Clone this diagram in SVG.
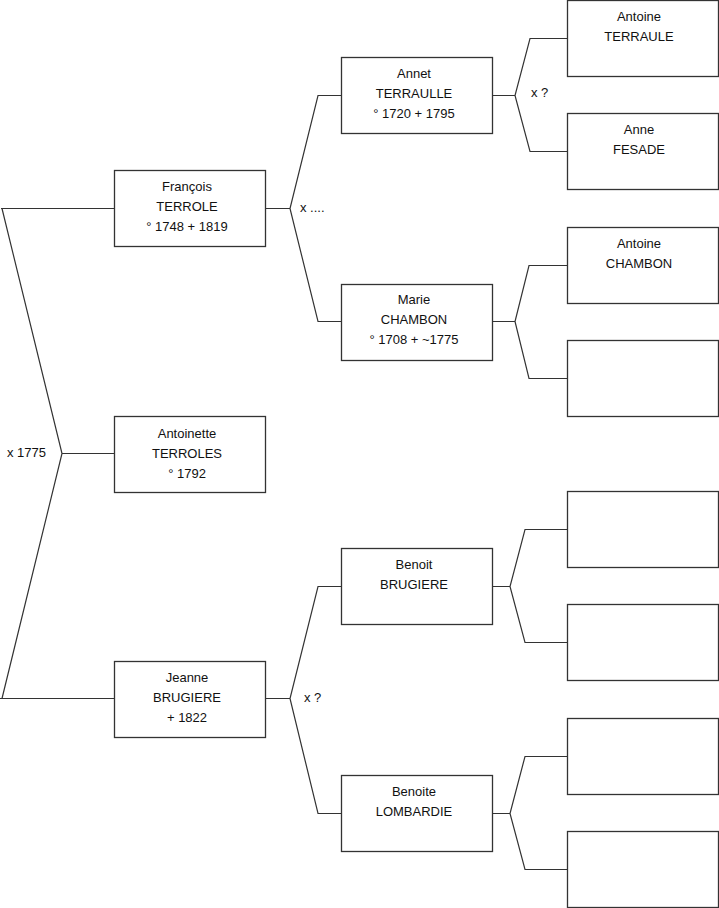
<svg xmlns="http://www.w3.org/2000/svg" width="719" height="908" viewBox="0 0 719 908">
<style>
.box{fill:#fff;stroke:#333;stroke-width:1.3}
.t{font-family:"Liberation Sans",Arial,sans-serif;font-size:13px;fill:#111;text-anchor:middle}
.l{font-family:"Liberation Sans",Arial,sans-serif;font-size:13px;fill:#111}
.c{fill:none;stroke:#333;stroke-width:1.2}
</style>
<rect width="719" height="908" fill="#fff"/>
<g id="connectors">
<path class="c" d="M114,208.5 H1 M2,208.5 L62,453.5 L2,698.5 M0,698.5 H114 M62,453.5 H114"/>
<path class="c" d="M265,208.5 H290 M341,95.5 H318 L290,208.5 L318,321.5 H341"/>
<path class="c" d="M265,698.5 H290 M341,586.5 H318 L290,698.5 L318,813.5 H341"/>
<path class="c" d="M492,95.5 H515 M567,38.5 H530 L515,95.5 L530,151.5 H567"/>
<path class="c" d="M492,321.5 H515 M567,265.5 H529 L515,321.5 L529,378.5 H567"/>
<path class="c" d="M492,586.5 H510 M567,529.5 H525 L510,586.5 L525,642.5 H567"/>
<path class="c" d="M492,813.5 H510 M567,756.5 H525 L510,813.5 L525,869.5 H567"/>
<text class="l" x="7" y="457">x 1775</text>
<text class="l" x="300" y="212">x ....</text>
<text class="l" x="304" y="702">x ?</text>
<text class="l" x="531" y="97">x ?</text>
</g>
<g id="francois"><rect class="box" x="114.5" y="170.5" width="151" height="76"/><text class="t" x="187" y="191">François</text><text class="t" x="187" y="211">TERROLE</text><text class="t" x="187" y="231">° 1748 + 1819</text></g>
<g id="antoinette"><rect class="box" x="114.5" y="416.5" width="151" height="76"/><text class="t" x="187" y="438">Antoinette</text><text class="t" x="187" y="458">TERROLES</text><text class="t" x="187" y="478">° 1792</text></g>
<g id="jeanne"><rect class="box" x="114.5" y="661.5" width="151" height="76"/><text class="t" x="187" y="682">Jeanne</text><text class="t" x="187" y="702">BRUGIERE</text><text class="t" x="187" y="722">+ 1822</text></g>
<g id="annet"><rect class="box" x="341.5" y="57.5" width="151" height="76"/><text class="t" x="414" y="78">Annet</text><text class="t" x="414" y="98">TERRAULLE</text><text class="t" x="414" y="118">° 1720 + 1795</text></g>
<g id="marie"><rect class="box" x="341.5" y="284.5" width="151" height="76"/><text class="t" x="414" y="304">Marie</text><text class="t" x="414" y="324">CHAMBON</text><text class="t" x="414" y="344">° 1708 + ~1775</text></g>
<g id="benoit"><rect class="box" x="341.5" y="548.5" width="151" height="76"/><text class="t" x="414" y="569">Benoit</text><text class="t" x="414" y="589">BRUGIERE</text></g>
<g id="benoite"><rect class="box" x="341.5" y="775.5" width="151" height="76"/><text class="t" x="414" y="796">Benoite</text><text class="t" x="414" y="816">LOMBARDIE</text></g>
<g id="antoine-terraule"><rect class="box" x="567.5" y="0.5" width="151" height="76"/><text class="t" x="639" y="21">Antoine</text><text class="t" x="639" y="41">TERRAULE</text></g>
<g id="anne-fesade"><rect class="box" x="567.5" y="113.5" width="151" height="76"/><text class="t" x="639" y="134">Anne</text><text class="t" x="639" y="154">FESADE</text></g>
<g id="antoine-chambon"><rect class="box" x="567.5" y="227.5" width="151" height="76"/><text class="t" x="639" y="248">Antoine</text><text class="t" x="639" y="268">CHAMBON</text></g>
<g id="blank1"><rect class="box" x="567.5" y="340.5" width="151" height="76"/></g>
<g id="blank2"><rect class="box" x="567.5" y="491.5" width="151" height="76"/></g>
<g id="blank3"><rect class="box" x="567.5" y="604.5" width="151" height="76"/></g>
<g id="blank4"><rect class="box" x="567.5" y="718.5" width="151" height="76"/></g>
<g id="blank5"><rect class="box" x="567.5" y="831.5" width="151" height="76"/></g>
</svg>
